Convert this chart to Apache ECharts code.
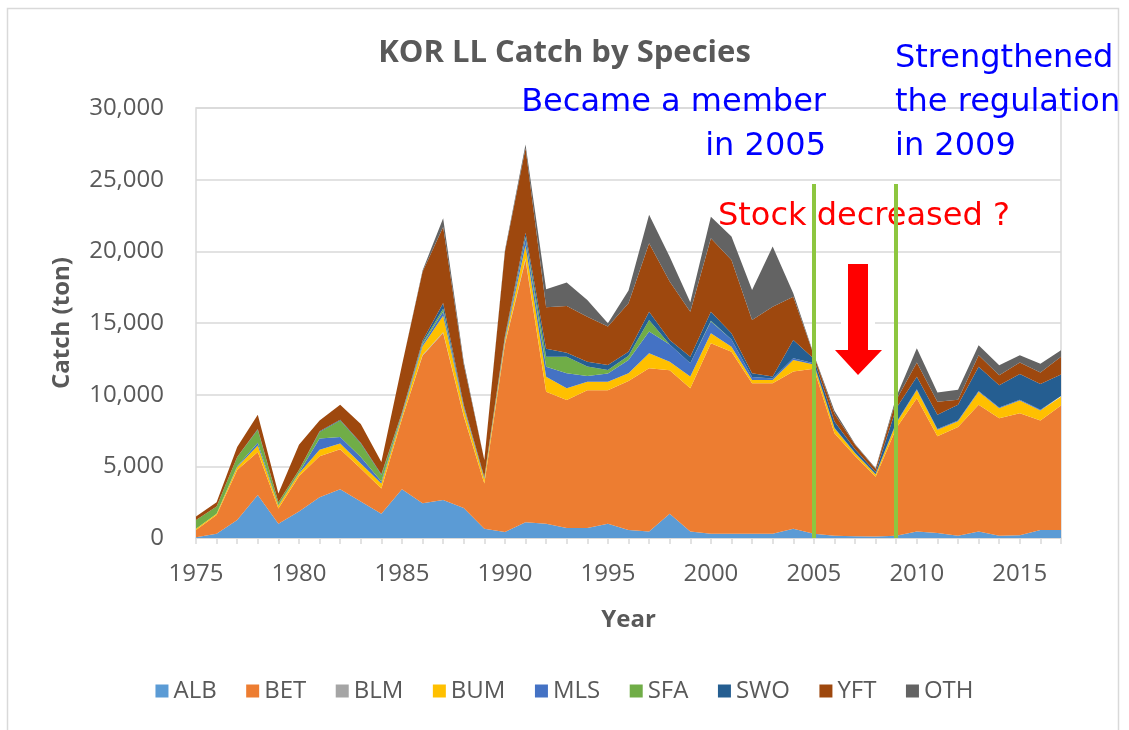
<!DOCTYPE html>
<html>
<head>
<meta charset="utf-8">
<script src="https://cdn.jsdelivr.net/npm/echarts@6/dist/echarts.min.js"></script>
<style>
html,body{margin:0;padding:0;background:#fff;}
#chart{width:1129px;height:730px;}
</style>
</head>
<body>
<div id="chart"></div>
<script>
const years = ['1975','1976','1977','1978','1979','1980','1981','1982','1983','1984',
  '1985','1986','1987','1988','1989','1990','1991','1992','1993','1994',
  '1995','1996','1997','1998','1999','2000','2001','2002','2003','2004',
  '2005','2006','2007','2008','2009','2010','2011','2012','2013','2014',
  '2015','2016','2017'];
const speciesNames = ['ALB','BET','BLM','BUM','MLS','SFA','SWO','YFT','OTH'];
const ALB = [50,300,1250,3000,1000,1850,2850,3400,2550,1700,
  3400,2420,2650,2100,650,420,1100,1000,700,700,
  1000,550,450,1700,450,300,300,300,300,650,
  300,150,120,100,150,450,350,150,450,150,
  200,550,550];
const BET = [500,1300,3500,3000,1050,2450,2850,2800,2300,1750,
  4900,10300,11650,6400,3150,13100,18300,9200,8930,9600,
  9300,10400,11400,10000,9990,13280,12700,10490,10490,10960,
  11500,7150,5600,4180,7500,9300,6750,7600,8850,8200,
  8500,7650,8700];
const BLM = [0,0,0,0,0,0,0,0,0,0,
  0,50,50,50,0,50,100,0,0,0,
  0,0,0,0,0,0,0,0,0,0,
  0,0,0,0,0,0,0,0,0,0,
  0,0,0];
const BUM = [100,100,200,450,200,200,450,400,350,350,
  200,600,1150,500,300,200,900,1050,810,600,
  600,540,1040,600,820,700,350,240,230,810,
  300,350,200,150,350,570,450,400,900,700,
  900,700,600];
const MLS = [0,0,50,200,50,50,800,450,450,150,
  100,150,300,100,50,100,500,700,1050,400,
  580,930,1510,1200,930,820,500,200,100,120,
  100,50,30,30,50,50,50,50,50,50,
  50,50,50];
const SFA = [600,500,650,900,200,200,450,1150,950,450,
  100,100,200,50,50,100,100,700,1160,660,
  240,300,810,0,0,50,0,0,0,0,
  0,0,0,0,0,0,0,0,0,0,
  0,0,0];
const SWO = [0,0,0,50,0,0,50,50,50,50,
  50,150,400,100,50,100,300,550,280,340,
  350,280,580,320,460,640,430,260,140,1280,
  300,420,250,150,1000,880,1000,1100,1700,1550,
  1800,1800,1500];
const YFT = [250,300,700,1000,600,1750,750,1050,1300,850,
  3300,4800,5300,2800,1200,5900,5900,2900,3260,3140,
  2680,3370,4770,4070,3140,5120,5120,3720,4880,3020,
  250,550,300,200,580,1000,900,350,800,700,
  800,800,1250];
const OTH = [0,0,0,0,0,0,0,0,0,0,
  0,100,600,200,0,100,250,1250,1630,1170,
  230,900,2000,1740,650,1510,1630,2100,4190,230,
  50,200,60,50,200,990,650,700,700,700,
  500,600,450];
const yTicks = [0,5000,10000,15000,20000,25000,30000];
const seriesValues = [ALB,BET,BLM,BUM,MLS,SFA,SWO,YFT,OTH];
const colors = ['#5B9BD5','#ED7D31','#A5A5A5','#FFC000','#4472C4','#70AD47','#255E91','#9E480E','#636363'];

const font = '"Open Sans", "Noto Sans", sans-serif';
const annFont = '"DejaVu Sans", sans-serif';
const chart = echarts.init(document.getElementById('chart'), null, {renderer:'canvas'});

const series = speciesNames.map((n,i)=>({
  name:n, type:'line', stack:'total', data:seriesValues[i],
  symbol:'none', showSymbol:false,
  lineStyle:{width:0}, areaStyle:{color:colors[i], opacity:1},
  itemStyle:{color:colors[i]}, emphasis:{disabled:true}, z:2
}));
series[series.length-1].markLine = {
  silent:true, symbol:'none', z:5,
  label:{show:false},
  lineStyle:{color:'#8DC63F', width:4, type:'solid'},
  data:[
    [{coord:['2005',24700]},{coord:['2005',0]}],
    [{coord:['2009',24700]},{coord:['2009',0]}]
  ]
};

function ann(text, x, y, align, color, z){
  return {type:'text', z:z, silent:true,
    style:{text:text, x:x, y:y, align:align, verticalAlign:'middle',
      font:'32px '+annFont, fill:color}};
}

const arrowPts = [[848,264],[868,264],[868,350],[882,350],[858,375],[835,350],[848,350]];

const option = {
  animation:false,
  backgroundColor:'#ffffff',
  color:colors,
  title:{
    text:'KOR LL Catch by Species', left:'center', top:33,
    textStyle:{fontFamily:font, fontSize:31, fontWeight:'bold', color:'#595959'}
  },
  legend:{
    data:speciesNames, bottom:22, left:'center',
    icon:'rect', itemWidth:13, itemHeight:13, itemGap:29.5,
    textStyle:{fontFamily:font, fontSize:24, color:'#595959'}
  },
  grid:{left:196, right:68, top:108, bottom:192, show:true, borderColor:'#D9D9D9', borderWidth:1.5},
  xAxis:{
    type:'category', data:years, boundaryGap:false,
    name:'Year', nameLocation:'middle', nameGap:70,
    nameTextStyle:{fontFamily:font, fontSize:24, fontWeight:'bold', color:'#595959'},
    axisLine:{lineStyle:{color:'#D9D9D9', width:1.5}},
    axisTick:{show:true, interval:0, length:6, lineStyle:{color:'#D9D9D9', width:1.5}},
    axisLabel:{interval:(i)=>i%5===0, margin:24, fontFamily:font, fontSize:24, color:'#595959'},
    splitLine:{show:false}
  },
  yAxis:{
    type:'value', min:yTicks[0], max:yTicks[yTicks.length-1], interval:5000,
    name:'Catch (ton)', nameLocation:'middle', nameRotate:90, nameGap:122,
    nameTextStyle:{fontFamily:font, fontSize:24, fontWeight:'bold', color:'#595959'},
    axisLine:{show:false}, axisTick:{show:false},
    axisLabel:{margin:32, fontFamily:font, fontSize:24, color:'#595959',
      formatter:(v)=>v.toLocaleString('en-US')},
    splitLine:{lineStyle:{color:'#D9D9D9', width:1.5}}
  },
  graphic:[
    {type:'rect', z:0, silent:true, shape:{x:7.5, y:8.5, width:1111, height:740},
      style:{fill:'none', stroke:'#D9D9D9', lineWidth:1.5}},
    ann('Became a member', 826, 103, 'right', '#0000FF', 10),
    ann('in 2005', 826, 147, 'right', '#0000FF', 10),
    ann('Strengthened', 895, 59, 'left', '#0000FF', 10),
    ann('the regulation', 895, 103, 'left', '#0000FF', 10),
    ann('in 2009', 895, 147, 'left', '#0000FF', 10),
    ann('Stock decreased ?', 718, 217, 'left', '#FF0000', 1),
    {type:'polygon', z:1, silent:true, shape:{points:arrowPts},
      style:{fill:'#FFFFFF', stroke:'#FFFFFF', lineWidth:14, lineJoin:'miter'}},
    {type:'polygon', z:1, silent:true, shape:{points:arrowPts},
      style:{fill:'#FF0000'}}
  ],
  series:series
};
chart.setOption(option);
</script>
</body>
</html>
